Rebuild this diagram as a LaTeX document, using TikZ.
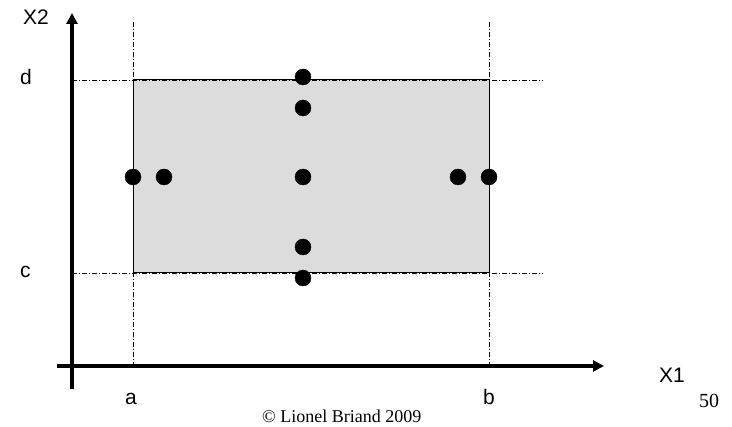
\documentclass[tikz,border=0pt]{standalone}
\usepackage{fontspec}
\setmainfont{Liberation Sans}
\newfontfamily\timesfont{Liberation Serif}
\usetikzlibrary{arrows.meta}
\definecolor{boxgray}{RGB}{220,220,220}
\tikzset{
  axis/.style={line width=4pt,-{Triangle[length=11pt,width=11pt]}},
  bound/.style={line width=0.8pt,dash pattern=on 5pt off 2pt on 1pt off 2pt},
  pt/.style={draw,shape=circle,fill=black,minimum size=16pt,inner sep=0pt},
  lbl/.style={font=\fontsize{21}{25}\selectfont,inner sep=0pt}
}
\begin{document}
\begin{tikzpicture}[x=1pt,y=-1pt]
\useasboundingbox (0,0) rectangle (732,427);
\fill[white] (0,0) rectangle (732,427);
% input domain
\filldraw[fill=boxgray,draw=black,line width=1pt] (133,80) rectangle (489,273);
\draw[bound] (133,22) -- (133,366);
\draw[bound] (489,22) -- (489,366);
\draw[bound] (72,80) -- (543,80);
\draw[bound] (72,273) -- (543,273);
% axes
\draw[axis] (57,366) -- (604,366);
\draw[axis] (72,389) -- (72,13);
% test points
\node[pt] (l1) at (133,177) {};
\node[pt] (l2) at (164,177) {};
\node[pt] (mid) at (303,177) {};
\node[pt] (r2) at (458,177) {};
\node[pt] (r1) at (489,177) {};
\node[pt] (t1) at (303,77) {};
\node[pt] (t2) at (303,108) {};
\node[pt] (b2) at (303,247) {};
\node[pt] (b1) at (303,278) {};
% labels
\node[lbl,anchor=base west] (xtwo) at (23,25) {X2};
\node[lbl,anchor=base west] (xone) at (659,383) {X1};
\node[lbl,anchor=base west] (dlab) at (20,85) {d};
\node[lbl,anchor=base west] (clab) at (20,278) {c};
\node[lbl,anchor=base] (alab) at (131,405) {a};
\node[lbl,anchor=base] (blab) at (489,405) {b};
\node[inner sep=0pt,anchor=base west,font=\timesfont\fontsize{20}{24}\selectfont] (page) at (699,408) {50};
\node[inner sep=0pt,anchor=base west,font=\timesfont\fontsize{18}{22}\selectfont] (copy) at (262,423) {© Lionel Briand 2009};
\end{tikzpicture}
\end{document}
